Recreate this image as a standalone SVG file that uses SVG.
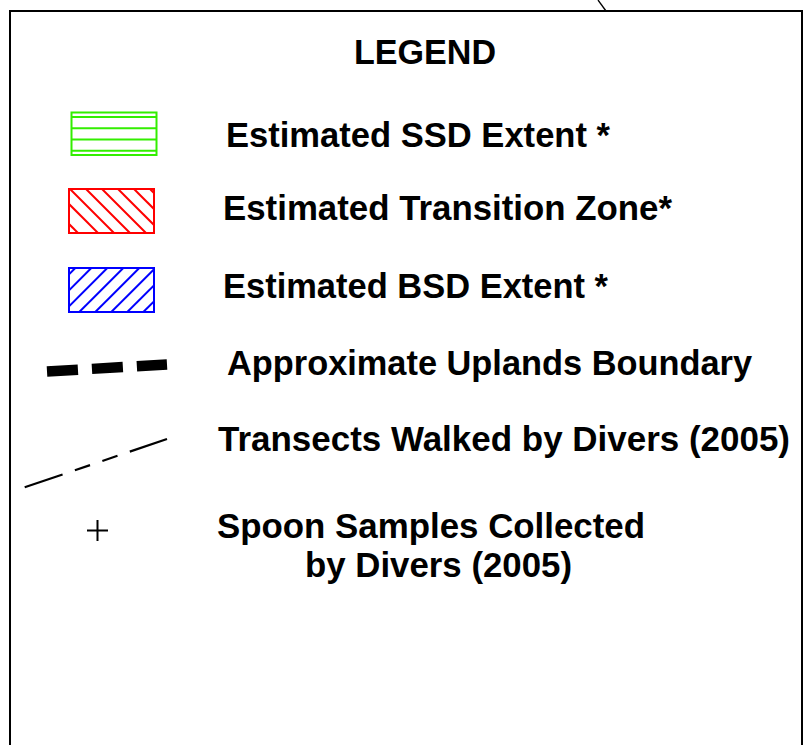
<svg xmlns="http://www.w3.org/2000/svg" width="803" height="745" viewBox="0 0 803 745">
  <style>
    .lbl { font-family: "Liberation Sans", Arial, Helvetica, sans-serif; font-weight: bold; font-size: 35px; fill: #000; }
    .title { font-family: "Liberation Sans", Arial, Helvetica, sans-serif; font-weight: bold; font-size: 35px; fill: #000; }
    .frame { fill: none; stroke: #000; stroke-width: 2; }
  </style>
  <defs>
    <clipPath id="clipRed"><rect x="69" y="189" width="85" height="44"/></clipPath>
    <clipPath id="clipBlue"><rect x="69" y="268" width="85" height="44"/></clipPath>
  </defs>
  <rect width="803" height="745" fill="#fff"/>

  <!-- legend frame and the map line running off its top edge -->
  <g id="frame">
    <path class="frame" d="M10,745 V11 H802 V745"/>
    <line x1="598" y1="0" x2="606" y2="11" stroke="#000" stroke-width="1.3"/>
  </g>

  <g id="title">
    <text class="title" x="354" y="64" textLength="142" lengthAdjust="spacingAndGlyphs">LEGEND</text>
  </g>

  <!-- SSD extent: green horizontal hatch -->
  <g id="ssd">
    <g fill="none" stroke="#33ee00" stroke-width="2">
      <rect x="71.5" y="112.5" width="85" height="42.5"/>
      <line x1="71.5" y1="117" x2="156.5" y2="117"/>
      <line x1="71.5" y1="128.3" x2="156.5" y2="128.3"/>
      <line x1="71.5" y1="139.5" x2="156.5" y2="139.5"/>
      <line x1="71.5" y1="150.8" x2="156.5" y2="150.8"/>
    </g>
    <text class="lbl" x="226" y="147" textLength="384" lengthAdjust="spacingAndGlyphs">Estimated SSD Extent *</text>
  </g>

  <!-- transition zone: red back-slash hatch -->
  <g id="transition">
    <g clip-path="url(#clipRed)" stroke="#ff0000" stroke-width="2">
      <line x1="18" y1="189" x2="62" y2="233"/>
      <line x1="34" y1="189" x2="78" y2="233"/>
      <line x1="54" y1="189" x2="98" y2="233"/>
      <line x1="70" y1="189" x2="114" y2="233"/>
      <line x1="86" y1="189" x2="130" y2="233"/>
      <line x1="102" y1="189" x2="146" y2="233"/>
      <line x1="118" y1="189" x2="162" y2="233"/>
      <line x1="134" y1="189" x2="178" y2="233"/>
      <line x1="150" y1="189" x2="194" y2="233"/>
    </g>
    <rect x="69" y="189" width="85" height="44" fill="none" stroke="#ff0000" stroke-width="2"/>
    <text class="lbl" x="223" y="220" textLength="449" lengthAdjust="spacingAndGlyphs">Estimated Transition Zone*</text>
  </g>

  <!-- BSD extent: blue forward-slash hatch -->
  <g id="bsd">
    <g clip-path="url(#clipBlue)" stroke="#0000ff" stroke-width="2">
      <line x1="75.3" y1="268" x2="31.3" y2="312"/>
      <line x1="91.3" y1="268" x2="47.3" y2="312"/>
      <line x1="107.3" y1="268" x2="63.3" y2="312"/>
      <line x1="123.3" y1="268" x2="79.3" y2="312"/>
      <line x1="139.3" y1="268" x2="95.3" y2="312"/>
      <line x1="155.3" y1="268" x2="111.3" y2="312"/>
      <line x1="171.3" y1="268" x2="127.3" y2="312"/>
      <line x1="187.3" y1="268" x2="143.3" y2="312"/>
    </g>
    <rect x="69" y="268" width="85" height="44" fill="none" stroke="#0000ff" stroke-width="2"/>
    <text class="lbl" x="223" y="298" textLength="385" lengthAdjust="spacingAndGlyphs">Estimated BSD Extent *</text>
  </g>

  <!-- uplands boundary: heavy dashes -->
  <g id="uplands">
    <line x1="47" y1="371.5" x2="167" y2="364.5" stroke="#000" stroke-width="10.5" stroke-dasharray="31 14"/>
    <text class="lbl" x="227" y="375" textLength="525" lengthAdjust="spacingAndGlyphs">Approximate Uplands Boundary</text>
  </g>

  <!-- diver transects: long-short dashed line -->
  <g id="transects">
    <line x1="24.7" y1="487.3" x2="167" y2="439" stroke="#000" stroke-width="2.2" stroke-dasharray="40 13 16 13 16 13 40"/>
    <text class="lbl" x="218" y="451" textLength="572" lengthAdjust="spacingAndGlyphs">Transects Walked by Divers (2005)</text>
  </g>

  <!-- spoon samples: cross marker -->
  <g id="spoon">
    <path d="M87,530.5 H108 M97.5,520 V541" stroke="#000" stroke-width="2" fill="none"/>
    <text class="lbl" x="217" y="538" textLength="428" lengthAdjust="spacingAndGlyphs">Spoon Samples Collected</text>
    <text class="lbl" x="305" y="577" textLength="267" lengthAdjust="spacingAndGlyphs">by Divers (2005)</text>
  </g>
</svg>
